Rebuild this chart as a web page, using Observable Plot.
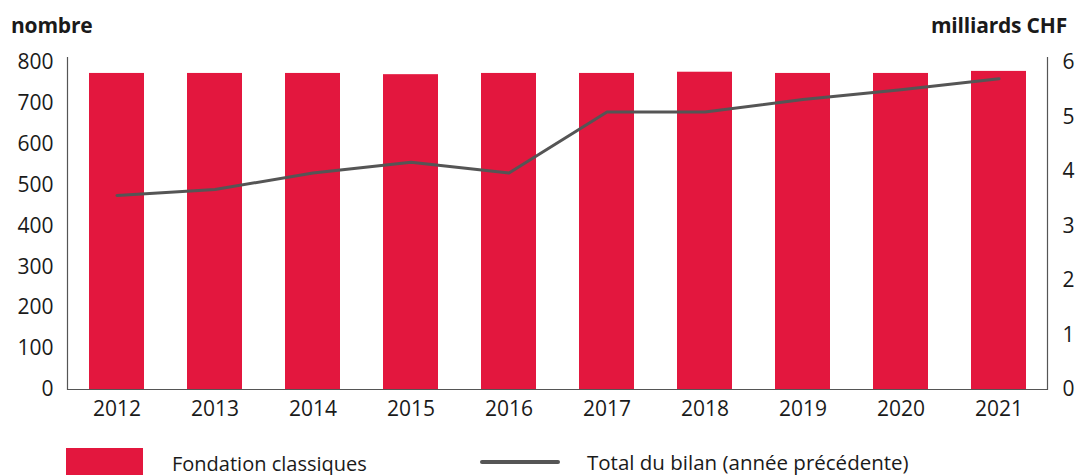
<!DOCTYPE html>
<html><head><meta charset="utf-8">
<script src="https://cdn.jsdelivr.net/npm/d3@7"></script>
<script src="https://cdn.jsdelivr.net/npm/@observablehq/plot@0.6"></script>
<style>
body{margin:0;background:#fff;font-family:"Open Sans",sans-serif;color:#1a1a1a;}
#wrap{position:relative;width:1075px;height:475px;overflow:hidden;}
.hdr{position:absolute;top:11px;font-weight:bold;font-size:21px;letter-spacing:-0.2px;}
.leg{position:absolute;top:448px;font-size:20px;display:flex;align-items:center;}
</style></head><body>
<div id="wrap">
<div class="hdr" style="left:11px">nombre</div>
<div class="hdr" style="right:8px">milliards CHF</div>
<div id="chart"></div>
<div class="leg" style="left:66px"><span style="display:inline-block;width:77px;height:30px;background:#E3173E;margin-right:29px"></span>Fondation classiques</div>
<div class="leg" style="left:480px;font-size:20.5px"><span style="display:inline-block;width:80px;height:4px;background:#555;border-radius:2px;margin-right:27px"></span>Total du bilan (année précédente)</div>
</div>
<script>
const years = ["2012","2013","2014","2015","2016","2017","2018","2019","2020","2021"];
const fondations = [773, 773, 773, 770, 773, 773, 776, 773, 773, 778];
const bilan = [3.56, 3.67, 3.97, 4.17, 3.97, 5.09, 5.09, 5.32, 5.50, 5.70];
const leftTicks = [0,100,200,300,400,500,600,700,800];
const rightTicks = [0,1,2,3,4,5,6];

const k = 800/6;
const data = years.map((y,i)=>({year:y, n:fondations[i], b:bilan[i]}));

const chart = Plot.plot({
  width:1075, height:430,
  marginTop:57, marginBottom:41, marginLeft:67, marginRight:28,
  style:{fontFamily:"Open Sans, sans-serif", fontSize:"21px", color:"#1a1a1a", background:"transparent"},
  x:{domain:years, paddingInner:0.44, paddingOuter:0.22, label:null},
  y:{domain:[0,812], label:null},
  marks:[
    Plot.barY(data,{x:"year", y:"n", fill:"#E3173E"}),
    Plot.line(data,{x:"year", y:d=>d.b*k, stroke:"#555", strokeWidth:3}),
    Plot.ruleY([0],{stroke:"#555", strokeWidth:1.2}),
    Plot.frame({anchor:"left", stroke:"#555", strokeWidth:1.2}),
    Plot.frame({anchor:"right", stroke:"#555", strokeWidth:1.2}),
    Plot.axisY(leftTicks,{anchor:"left", tickSize:0, tickPadding:14, label:null}),
    Plot.axisY(rightTicks.map(v=>v*k),{anchor:"right", tickSize:0, tickPadding:15, tickFormat:d=>Math.round(d/k), label:null}),
    Plot.axisX({tickSize:0, tickPadding:12, label:null})
  ]
});
document.getElementById("chart").appendChild(chart);
</script>
</body></html>
